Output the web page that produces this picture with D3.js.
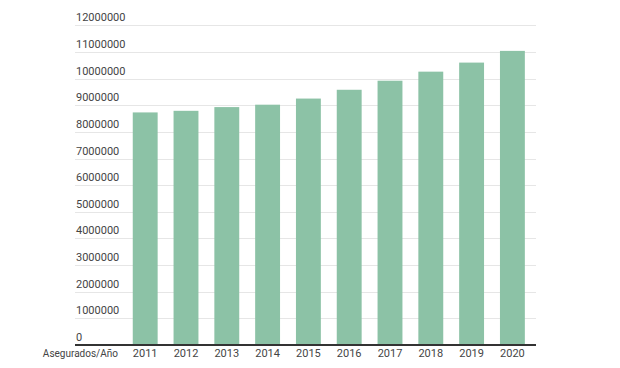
<html>
<head>
<meta charset="utf-8">
<script src="https://d3js.org/d3.v7.min.js"></script>
<style>
body { margin: 0; padding: 0; background: #fff; }
svg { display: block; }
.tick-label { font-family: Roboto, sans-serif; font-size: 11px; fill: #444; }
</style>
</head>
<body>
<script>
// Asegurados por año
var years = ["2011", "2012", "2013", "2014", "2015", "2016", "2017", "2018", "2019", "2020"];
var insured = [8730000, 8790000, 8930000, 9020000, 9250000, 9580000, 9920000, 10260000, 10600000, 11040000];
var yTicks = [0, 1000000, 2000000, 3000000, 4000000, 5000000, 6000000, 7000000, 8000000, 9000000, 10000000, 11000000, 12000000];
var xTitle = "Asegurados/Año";

var width = 620, height = 368;
var plotLeft = 75, plotRight = 536, plotTop = 25.3, plotBottom = 345;

var svg = d3.select("body").append("svg")
    .attr("width", width)
    .attr("height", height);

var x = d3.scaleBand()
    .domain(years)
    .range([124.8, 532.8])
    .paddingInner(0.39)
    .paddingOuter(0.195);

var y = d3.scaleLinear()
    .domain([0, 12000000])
    .range([plotBottom, plotTop]);

// gridlines
svg.append("g").selectAll("line")
    .data(yTicks.slice(1))
    .enter().append("line")
    .attr("x1", plotLeft)
    .attr("x2", plotRight)
    .attr("y1", function (d) { return Math.round(y(d)) + 0.5; })
    .attr("y2", function (d) { return Math.round(y(d)) + 0.5; })
    .attr("stroke", "#e6e6e6")
    .attr("stroke-width", 1);

// y labels, sitting above the gridlines
svg.append("g").selectAll("text")
    .data(yTicks)
    .enter().append("text")
    .attr("class", "tick-label")
    .attr("x", plotLeft + 1)
    .attr("y", function (d) { return y(d) - 4; })
    .text(function (d) { return d; });

// bars
svg.append("g").selectAll("rect")
    .data(insured)
    .enter().append("rect")
    .attr("x", function (d, i) { return x(years[i]); })
    .attr("width", x.bandwidth())
    .attr("y", function (d) { return y(d); })
    .attr("height", function (d) { return y(0) - y(d); })
    .attr("fill", "#8cc2a6");

// baseline
svg.append("line")
    .attr("x1", plotLeft)
    .attr("x2", plotRight)
    .attr("y1", plotBottom)
    .attr("y2", plotBottom)
    .attr("stroke", "#333")
    .attr("stroke-width", 2);

// x labels
svg.append("g").selectAll("text")
    .data(years)
    .enter().append("text")
    .attr("class", "tick-label")
    .attr("x", function (d) { return x(d) + x.bandwidth() / 2; })
    .attr("y", 357)
    .attr("text-anchor", "middle")
    .text(function (d) { return d; });

svg.append("text")
    .attr("class", "tick-label")
    .attr("x", 118)
    .attr("y", 357)
    .attr("text-anchor", "end")
    .style("font-size", "10px")
    .text(xTitle);
</script>
</body>
</html>
